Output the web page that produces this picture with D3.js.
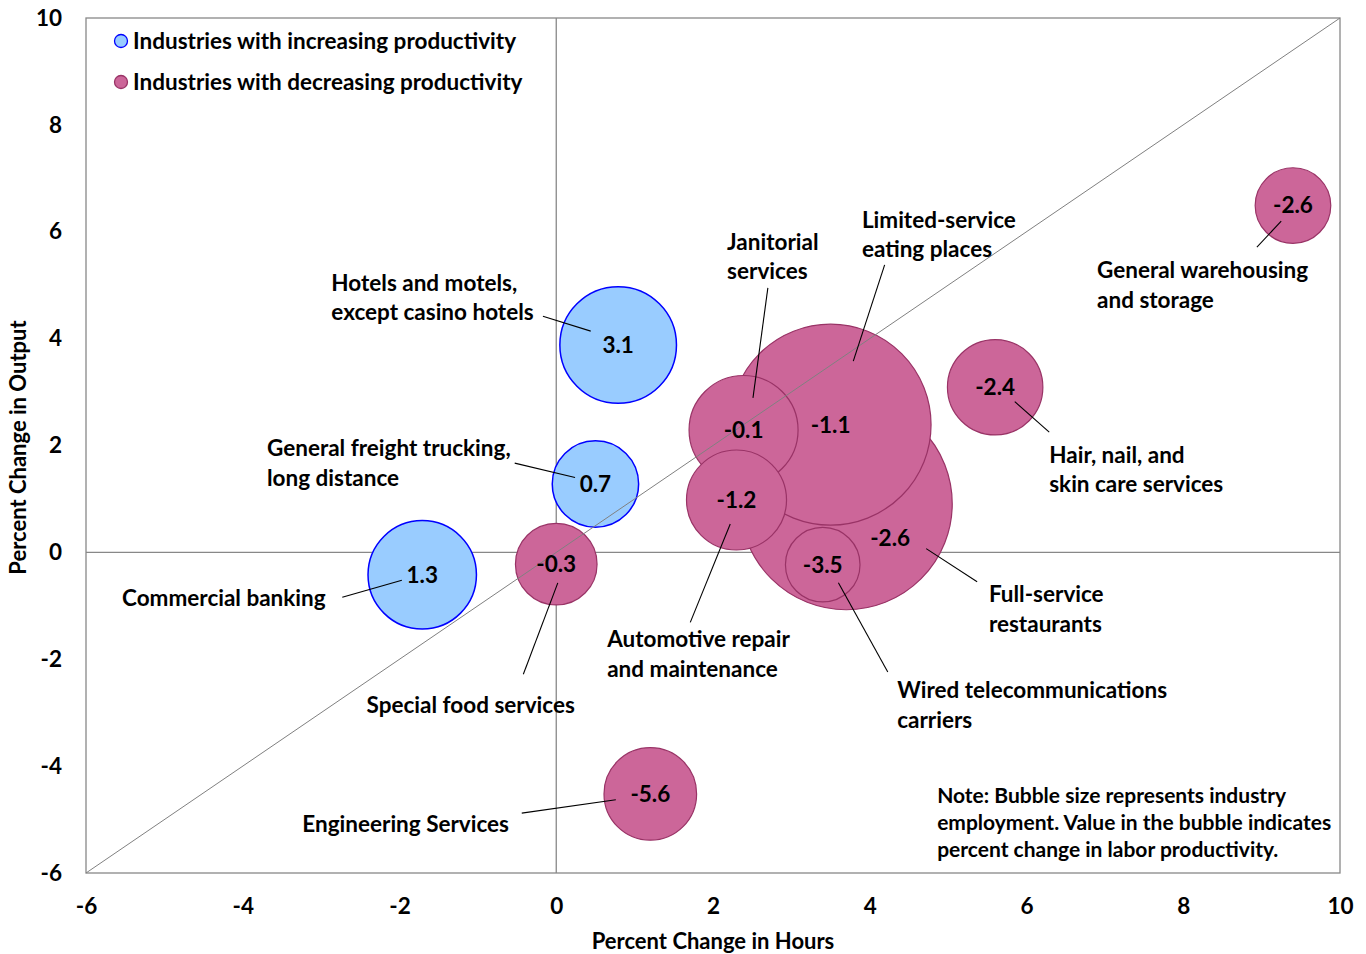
<!DOCTYPE html>
<html><head><meta charset="utf-8">
<script src="https://cdn.jsdelivr.net/npm/d3@7"></script>
<style>
body{margin:0;background:#fff;}
text{font-family:Lato,"Open Sans",sans-serif;font-weight:700;fill:#000;}
</style></head>
<body><svg id="c" width="1366" height="954"></svg>
<script>
// ---- data ----
const industries = ["Full-service restaurants","Limited-service eating places","Hotels and motels, except casino hotels","Janitorial services","Commercial banking","Automotive repair and maintenance","Hair, nail, and skin care services","Engineering Services","General freight trucking, long distance","Special food services","General warehousing and storage","Wired telecommunications carriers"];
const hoursChange = [3.70, 3.50, 0.79, 2.39, -1.71, 2.30, 5.60, 1.20, 0.50, 0.00, 9.40, 3.40];
const outputChange = [0.91, 2.39, 3.88, 2.29, -0.42, 0.98, 3.09, -4.52, 1.28, -0.22, 6.49, -0.23];
const employment = [5000, 4495, 1513, 1322, 1308, 1113, 1013, 954, 830, 741, 636, 619];
const productivity = [-2.6, -1.1, 3.1, -0.1, 1.3, -1.2, -2.4, -5.6, 0.7, -0.3, -2.6, -3.5];
const labelLines = [["Full-service","restaurants"],["Limited-service","eating places"],["Hotels and motels,","except casino hotels"],["Janitorial","services"],["Commercial banking"],["Automotive repair","and maintenance"],["Hair, nail, and","skin care services"],["Engineering Services"],["General freight trucking,","long distance"],["Special food services"],["General warehousing","and storage"],["Wired telecommunications","carriers"]];
const xTicks = [-6,-4,-2,0,2,4,6,8,10];
const yTicks = [-6,-4,-2,0,2,4,6,8,10];
const legendLabels = ["Industries with increasing productivity","Industries with decreasing productivity"];
const noteLines = ["Note: Bubble size represents industry","employment. Value in the bubble indicates","percent change in labor productivity."];

// ---- annotation layout (data units) ----
const labelAnchor = [[5.52,-0.79],[3.90,6.22],[-2.87,5.04],[2.18,5.81],[-5.54,-0.85],[0.65,-1.63],[6.29,1.82],[-3.24,-5.08],[-3.69,1.95],[-2.42,-2.86],[6.90,5.28],[4.35,-2.58]];
const leaderFrom = [[5.37,-0.55],[4.19,5.38],[-0.17,4.42],[2.70,4.95],[-2.73,-0.84],[1.71,-1.31],[6.29,2.25],[-0.44,-4.88],[-0.53,1.67],[-0.42,-2.28],[8.94,5.71],[4.23,-2.24]];
const leaderTo = [[4.72,0.07],[3.79,3.58],[0.44,4.14],[2.51,2.89],[-1.97,-0.52],[2.22,0.53],[5.85,2.82],[0.76,-4.63],[0.24,1.40],[0.02,-0.57],[9.25,6.20],[3.60,-0.57]];
const valueAt = [[4.26,0.27],null,null,null,null,null,null,null,null,null,null,null];
const noteAnchor = [4.86,-4.56];

const svg = d3.select("#c");
const L=86,R=1340,T=18,B=873;
const x = d3.scaleLinear().domain([-6,10]).range([L,R]);
const y = d3.scaleLinear().domain([-6,10]).range([B,T]);
const r = d3.scaleSqrt().domain([0,d3.max(employment)]).range([0,106]);
const colors = {inc:{fill:"#99CCFF",stroke:"#0000FF"},dec:{fill:"#CC6699",stroke:"#993366"}};
const FS = "22.5px";

const data = industries.map((n,i)=>({name:n,hx:hoursChange[i],oy:outputChange[i],emp:employment[i],p:productivity[i],lines:labelLines[i],la:labelAnchor[i],lf:leaderFrom[i],lt:leaderTo[i],va:valueAt[i]}));

// plot border
svg.append("rect").attr("x",L).attr("y",T).attr("width",R-L).attr("height",B-T).attr("fill","none").attr("stroke","#888").attr("stroke-width",1.3);
// zero lines
svg.append("line").attr("x1",x(0)).attr("x2",x(0)).attr("y1",T).attr("y2",B).attr("stroke","#888").attr("stroke-width",1.3);
svg.append("line").attr("x1",L).attr("x2",R).attr("y1",y(0)).attr("y2",y(0)).attr("stroke","#888").attr("stroke-width",1.3);

// axes (labels only)
const xa = svg.append("g").attr("transform",`translate(0,${B})`).call(d3.axisBottom(x).tickValues(xTicks).tickSize(0).tickPadding(0).tickFormat(d=>String(d)));
xa.select(".domain").remove();
xa.selectAll("text").attr("y",33).attr("dy","0.35em").style("font-size",FS).style("font-family","Lato").style("font-weight","700").attr("fill","#000");
const ya = svg.append("g").attr("transform",`translate(${L},0)`).call(d3.axisLeft(y).tickValues(yTicks).tickSize(0).tickPadding(24).tickFormat(d=>String(d)));
ya.select(".domain").remove();
ya.selectAll("text").style("font-size",FS).style("font-family","Lato").style("font-weight","700").attr("fill","#000");

svg.append("text").attr("x",(L+R)/2).attr("y",941).attr("dy","0.35em").attr("text-anchor","middle").style("font-size","22px").text("Percent Change in Hours");
svg.append("text").attr("transform",`translate(18,${(T+B)/2+2}) rotate(-90)`).attr("dy","0.35em").attr("text-anchor","middle").style("font-size","22px").text("Percent Change in Output");

// bubbles
const sorted = data.slice().sort((a,b)=>b.emp-a.emp);
svg.append("g").selectAll("circle").data(sorted).join("circle")
  .attr("cx",d=>x(d.hx)).attr("cy",d=>y(d.oy)).attr("r",d=>r(d.emp))
  .attr("fill",d=>d.p>0?colors.inc.fill:colors.dec.fill)
  .attr("stroke",d=>d.p>0?colors.inc.stroke:colors.dec.stroke)
  .attr("stroke-width",d=>d.p>0?1.5:1.2);

// diagonal
svg.append("line").attr("x1",x(-6)).attr("y1",y(-6)).attr("x2",x(10)).attr("y2",y(10)).attr("stroke","#808080").attr("stroke-width",1);

// leader lines
svg.append("g").selectAll("line").data(data).join("line")
  .attr("x1",d=>x(d.lf[0])).attr("y1",d=>y(d.lf[1])).attr("x2",d=>x(d.lt[0])).attr("y2",d=>y(d.lt[1]))
  .attr("stroke","#000").attr("stroke-width",1.1);

// value labels
svg.append("g").selectAll("text").data(data).join("text")
  .attr("x",d=>x(d.va?d.va[0]:d.hx)).attr("y",d=>y(d.va?d.va[1]:d.oy)).attr("dy","0.35em")
  .attr("text-anchor","middle").style("font-size",FS).text(d=>d.p.toFixed(1));

// industry labels
const lh = 29.5;
data.forEach(d=>{
  const t = svg.append("text").attr("x",x(d.la[0])).attr("y",y(d.la[1])).style("font-size",FS);
  d.lines.forEach((s,i)=>t.append("tspan").attr("x",x(d.la[0])).attr("dy",i===0?"0.35em":lh).text(s));
});

// note
const nt = svg.append("text").attr("x",x(noteAnchor[0])).attr("y",y(noteAnchor[1])).style("font-size","21px");
noteLines.forEach((s,i)=>nt.append("tspan").attr("x",x(noteAnchor[0])).attr("dy",i===0?"0.35em":27).text(s));

// legend
const lg = svg.append("g");
legendLabels.forEach((s,i)=>{
  const c = i===0?colors.inc:colors.dec;
  lg.append("circle").attr("cx",121).attr("cy",41+i*41).attr("r",6.5).attr("fill",c.fill).attr("stroke",c.stroke).attr("stroke-width",1.3);
  lg.append("text").attr("x",133).attr("y",41+i*41).attr("dy","0.35em").style("font-size",FS).text(s);
});
</script></body></html>
